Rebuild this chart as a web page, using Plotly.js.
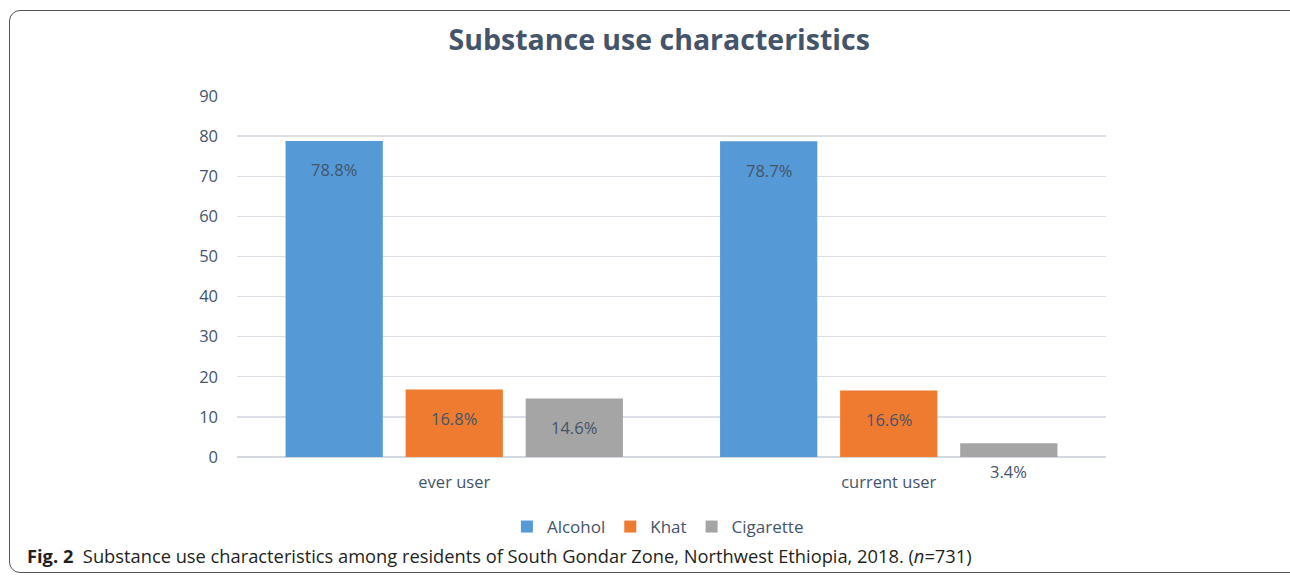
<!DOCTYPE html>
<html>
<head>
<meta charset="utf-8">
<script src="https://cdn.plot.ly/plotly-3.0.1.min.js"></script>
<style>
  html, body { margin: 0; padding: 0; background: #fff; }
  #wrap { position: relative; width: 1290px; height: 576px; overflow: hidden; }
  #chart { width: 1290px; height: 576px; }
  #frame { position: absolute; left: 9px; top: 10px; width: 1290px; height: 561px;
           border: 1.5px solid #555; border-radius: 11px; pointer-events: none; }
</style>
</head>
<body>
<div id="wrap">
  <div id="chart"></div>
  <div id="frame"></div>
</div>
<script>
const categories = ['ever user', 'current user'];
const seriesNames = ['Alcohol', 'Khat', 'Cigarette'];
const alcohol = [78.8, 78.7];
const khat = [16.8, 16.6];
const cigarette = [14.6, 3.4];
const yTicks = [0, 10, 20, 30, 40, 50, 60, 70, 80, 90];
const titleText = 'Substance use characteristics';
const captionText = '<b>Fig. 2</b>  Substance use characteristics among residents of South Gondar Zone, Northwest Ethiopia, 2018. (<i>n</i>=731)';

const colors = ['#5599d6', '#ee7b30', '#a5a5a5'];
const textColor = '#44546a';
const fontFam = 'Open Sans, sans-serif';

// plot geometry (pixels)
const M = { l: 237, r: 184, t: 96, b: 119 };
const plotW = 1290 - M.l - M.r;
const plotH = 576 - M.t - M.b;
const slotPx = 120; // spacing between bar centres within a group

const series = [alcohol, khat, cigarette];

const data = series.map((vals, i) => ({
  type: 'bar', name: seriesNames[i], x: categories, y: vals,
  marker: { color: colors[i], line: { width: 0 } },
  hoverinfo: 'none'
}));

// data labels: inside near the top, except the tiny bar whose label sits below the axis
const labelAnns = [];
series.forEach((vals, i) => {
  vals.forEach((v, j) => {
    const small = v < 8;
    labelAnns.push({
      xref: 'x', yref: 'y', x: categories[j], y: small ? 0 : v,
      xshift: (i - 1) * slotPx, yshift: small ? -14 : -29,
      xanchor: 'center', yanchor: 'middle',
      text: v + '%', showarrow: false,
      font: { family: fontFam, size: 16.5, color: textColor }
    });
  });
});

const layout = {
  width: 1290, height: 576,
  paper_bgcolor: '#ffffff', plot_bgcolor: '#ffffff',
  margin: { l: M.l, r: M.r, t: M.t, b: M.b, pad: 0 },
  barmode: 'group', bargap: 0.171, bargroupgap: 0.19,
  font: { family: fontFam, color: textColor, size: 16 },
  title: {
    text: '<b>' + titleText + '</b>',
    font: { family: fontFam, size: 28.5, color: textColor },
    xref: 'container', x: 0.511, xanchor: 'center',
    yref: 'container', y: 1 - 40 / 576, yanchor: 'middle'
  },
  xaxis: {
    type: 'category', showgrid: false, zeroline: false, showline: false,
    ticks: '', tickfont: { family: fontFam, size: 16.5, color: textColor },
    ticklabelstandoff: 13
  },
  yaxis: {
    range: [0, 90], tickvals: yTicks, ticktext: yTicks.map(String),
    showgrid: true, gridcolor: '#dcdfe6', gridwidth: 1.3,
    zeroline: true, zerolinecolor: '#d3d7e0', zerolinewidth: 2,
    showline: false, ticks: '',
    tickfont: { family: fontFam, size: 16.5, color: textColor },
    ticklabelstandoff: 18
  },
  showlegend: true,
  legend: {
    orientation: 'h', xref: 'container', yref: 'container',
    x: 0.51, xanchor: 'center', y: 1 - 527 / 576, yanchor: 'middle',
    font: { family: fontFam, size: 17, color: textColor },
    itemwidth: 30, itemclick: false, traceorder: 'normal'
  },
  annotations: labelAnns.concat([
    {
      xref: 'paper', yref: 'paper', x: (25 - M.l) / plotW, y: (457 - 555) / plotH,
      xanchor: 'left', yanchor: 'middle', text: captionText, showarrow: false,
      font: { family: fontFam, size: 18.3, color: '#231f20' }
    }
  ])
};

Plotly.newPlot('chart', data, layout, { displayModeBar: false, staticPlot: true });
</script>
</body>
</html>
